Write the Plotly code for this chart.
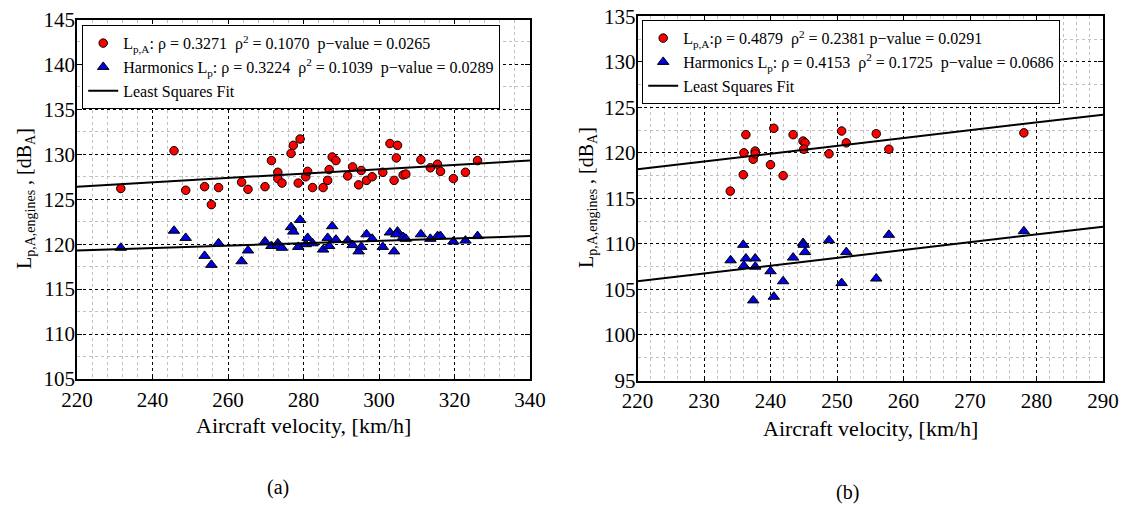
import plotly.graph_objects as go

# ---------------- data: panel (a) ----------------
a_vel = [231.6, 245.7, 248.8, 253.8, 255.6, 257.5, 263.6, 265.3, 269.8, 271.5,
         273.2, 273.2, 274.3, 276.7, 277.3, 279.1, 278.6, 280.6, 281.1, 282.4,
         285.2, 286.4, 286.8, 287.6, 288.6, 291.7, 293.0, 294.6, 295.3, 296.7,
         298.2, 301.0, 302.9, 304.9, 304.6, 304.0, 306.4, 307.1, 311.1, 313.6,
         315.5, 316.3, 319.7, 322.9, 326.1]
a_lpa = [126.2, 130.4, 126.0, 126.4, 124.4, 126.3, 126.9, 126.1, 126.4, 129.3,
         128.0, 127.3, 126.8, 130.1, 131.0, 131.7, 126.8, 127.5, 128.1, 126.3,
         126.3, 127.1, 128.3, 129.7, 129.3, 127.6, 128.6, 126.6, 128.2, 127.1,
         127.5, 128.0, 131.2, 131.0, 129.6, 127.1, 127.7, 127.8, 129.4, 128.5,
         128.9, 128.1, 127.3, 128.0, 129.3]
a_harm = [119.6, 121.5, 120.7, 118.7, 117.7, 120.1, 118.1, 119.3, 120.3, 119.8,
          120.1, 119.8, 119.6, 121.9, 121.4, 122.7, 119.7, 120.0, 120.7, 120.1,
          119.4, 120.7, 119.8, 122.0, 120.5, 120.4, 119.9, 119.2, 119.7, 121.1,
          120.6, 119.7, 121.3, 121.4, 121.1, 119.2, 120.8, 120.6, 121.1, 120.6,
          120.9, 120.9, 120.3, 120.4, 120.9]
a_fit_x = [220, 340]
a_fit_lpa = [126.4, 129.3]
a_fit_harm = [119.3, 120.9]

# ---------------- data: panel (b) ----------------
b_vel_lpa = [233.95, 235.9, 236.0, 236.3, 237.4, 237.7, 237.7, 240.0, 240.5, 241.9,
             243.4, 244.9, 245.2, 245.0, 248.8, 250.7, 251.4, 255.9, 257.8, 278.1]
b_lpa = [115.8, 117.6, 120.0, 122.0, 119.3, 120.2, 119.9, 118.7, 122.7, 117.5,
         122.0, 121.3, 121.1, 120.4, 119.9, 122.4, 121.1, 122.1, 120.4, 122.2]
b_vel_harm = [234.0, 235.9, 236.0, 236.3, 237.4, 237.7, 237.7, 240.0, 240.5, 241.9,
              243.4, 244.9, 245.0, 245.2, 248.8, 250.7, 251.4, 255.9, 257.8, 278.1]
b_harm = [108.2, 109.9, 107.6, 108.4, 103.8, 108.4, 107.5, 107.0, 104.2, 105.9,
          108.5, 110.1, 109.9, 109.1, 110.4, 105.7, 109.1, 106.2, 111.0, 111.4]
b_fit_x = [220, 290]
b_fit_lpa = [118.2, 124.2]
b_fit_harm = [105.9, 111.9]

# ---------------- texts ----------------
NB = "\u00a0"
a_leg = ["L<sub>p,A</sub>: ρ = 0.3271" + NB * 2 + "ρ<sup>2</sup> = 0.1070" + NB * 2 + "p−value = 0.0265",
         "Harmonics L<sub>p</sub>: ρ = 0.3224" + NB * 2 + "ρ<sup>2</sup> = 0.1039" + NB * 2 + "p−value = 0.0289",
         "Least Squares Fit"]
b_leg = ["L<sub>p,A</sub>:ρ = 0.4879" + NB * 2 + "ρ<sup>2</sup> = 0.2381 p−value = 0.0291",
         "Harmonics L<sub>p</sub>: ρ = 0.4153" + NB * 2 + "ρ<sup>2</sup> = 0.1725" + NB * 2 + "p−value = 0.0686",
         "Least Squares Fit"]
x_title = "Aircraft velocity, [km/h]"
y_title = "L<sub>p,A,engines</sub> , [dB<sub>A</sub>]"

FONT = "'Liberation Serif', 'Times New Roman', 'DejaVu Serif', serif"
W, H = 1130, 508

def px_x(p):
    return p / W

def px_y(p):
    return 1 - p / H

red_marker = dict(symbol="circle", size=8.5, color="#ff0000", line=dict(color="black", width=1))
blue_marker = dict(symbol="triangle-up", size=10, color="#0000e0", line=dict(color="black", width=1))

fig = go.Figure()
# panel a
fig.add_trace(go.Scatter(x=a_vel, y=a_lpa, mode="markers", marker=red_marker, name=a_leg[0],
                         xaxis="x", yaxis="y", legend="legend"))
fig.add_trace(go.Scatter(x=a_vel, y=a_harm, mode="markers", marker=blue_marker, name=a_leg[1],
                         xaxis="x", yaxis="y", legend="legend"))
fig.add_trace(go.Scatter(x=a_fit_x, y=a_fit_lpa, mode="lines", line=dict(color="black", width=2),
                         name=a_leg[2], xaxis="x", yaxis="y", legend="legend"))
fig.add_trace(go.Scatter(x=a_fit_x, y=a_fit_harm, mode="lines", line=dict(color="black", width=2),
                         showlegend=False, xaxis="x", yaxis="y"))
# panel b
fig.add_trace(go.Scatter(x=b_vel_lpa, y=b_lpa, mode="markers", marker=red_marker, name=b_leg[0],
                         xaxis="x2", yaxis="y2", legend="legend2"))
fig.add_trace(go.Scatter(x=b_vel_harm, y=b_harm, mode="markers", marker=blue_marker, name=b_leg[1],
                         xaxis="x2", yaxis="y2", legend="legend2"))
fig.add_trace(go.Scatter(x=b_fit_x, y=b_fit_lpa, mode="lines", line=dict(color="black", width=2),
                         name=b_leg[2], xaxis="x2", yaxis="y2", legend="legend2"))
fig.add_trace(go.Scatter(x=b_fit_x, y=b_fit_harm, mode="lines", line=dict(color="black", width=2),
                         showlegend=False, xaxis="x2", yaxis="y2"))

def ax_style(dtick, minor_dtick):
    return dict(
        showline=True, linecolor="black", linewidth=1.5, mirror="ticks",
        ticks="inside", ticklen=5, tickcolor="black", tickwidth=1,
        showgrid=True, gridcolor="black", gridwidth=1, griddash="dot",
        zeroline=False, dtick=dtick,
        minor=dict(dtick=minor_dtick, showgrid=True, gridcolor="#c0c0c0", griddash="dot",
                   gridwidth=1, ticks=""),
        tickfont=dict(family=FONT, size=21, color="black"),
        automargin=False,
    )

xa = ax_style(20, 4); xa.update(range=[220, 340], domain=[px_x(77), px_x(530)], anchor="y")
ya = ax_style(5, 2.5); ya.update(range=[105, 145], domain=[px_y(379), px_y(19.5)], anchor="x", tick0=105)
xb = ax_style(10, 2); xb.update(range=[220, 290], domain=[px_x(637.5), px_x(1103)], anchor="y2")
yb = ax_style(5, 2.5); yb.update(range=[95, 135], domain=[px_y(380.5), px_y(16.3)], anchor="x2", tick0=95)
for ax in (ya, yb):
    ax["ticklabelstandoff"] = -4
for ax in (xa, xb):
    ax["ticklabelstandoff"] = 1

leg_common = dict(bgcolor="white", bordercolor="black", borderwidth=1.2,
                  font=dict(family=FONT, size=16, color="black"),
                  xanchor="left", yanchor="top", tracegroupgap=0, itemwidth=30)

fig.update_layout(
    width=W, height=H, margin=dict(l=0, r=0, t=0, b=0),
    paper_bgcolor="white", plot_bgcolor="white",
    font=dict(family=FONT, color="black"),
    xaxis=xa, yaxis=ya, xaxis2=xb, yaxis2=yb,
    legend=dict(x=px_x(82), y=px_y(25), **leg_common),
    legend2=dict(x=px_x(642), y=px_y(20), **leg_common),
    showlegend=True,
)

annots = [
    dict(text=x_title, x=px_x(303.5), y=px_y(425), xanchor="center", yanchor="middle", size=22),
    dict(text=x_title, x=px_x(870), y=px_y(428), xanchor="center", yanchor="middle", size=22),
    dict(text=y_title, x=px_x(26), y=px_y(199), xanchor="center", yanchor="middle", size=20, angle=-90),
    dict(text=y_title, x=px_x(587), y=px_y(198), xanchor="center", yanchor="middle", size=20, angle=-90),
    dict(text="(a)", x=px_x(278), y=px_y(487), xanchor="center", yanchor="middle", size=20),
    dict(text="(b)", x=px_x(847), y=px_y(492), xanchor="center", yanchor="middle", size=20),
]
for a in annots:
    fig.add_annotation(text=a["text"], x=a["x"], y=a["y"], xref="paper", yref="paper",
                       xanchor=a["xanchor"], yanchor=a["yanchor"], showarrow=False,
                       textangle=a.get("angle", 0),
                       font=dict(family=FONT, size=a["size"], color="black"))

fig.write_html("out.html")
